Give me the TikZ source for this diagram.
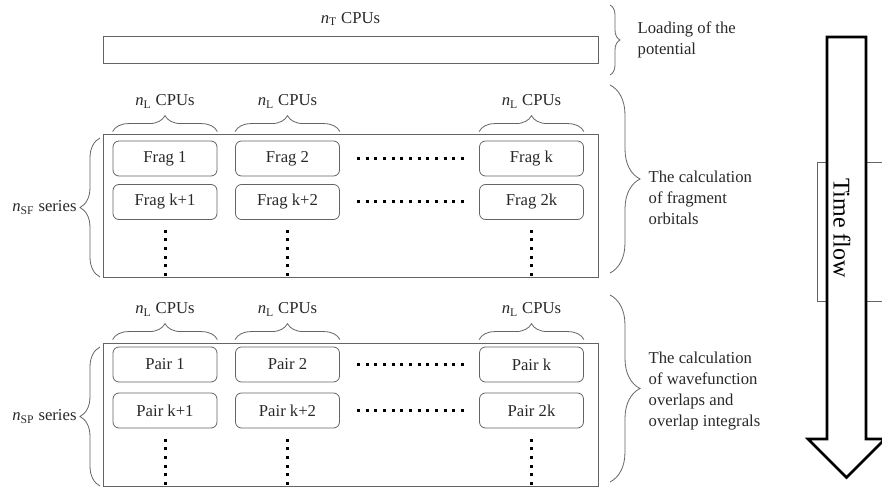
\documentclass[tikz,border=0pt]{standalone}
\usepackage{fontspec}
\setmainfont{Liberation Serif}
\usetikzlibrary{decorations.pathreplacing,positioning}
\definecolor{linegray}{RGB}{100,100,100}
\definecolor{textgray}{RGB}{40,40,40}
\newcommand{\nsub}[1]{\textit{n}\textsubscript{#1}}
\begin{document}
\begin{tikzpicture}[x=.75pt, y=-.75pt,
  every node/.style={text=textgray, font=\fontsize{12.5}{15.75}\selectfont},
  frame/.style={draw=linegray, line width=.6pt},
  job/.style={draw=linegray, line width=.6pt, rounded corners=4.5pt, minimum width=78pt, minimum height=26.25pt, inner sep=0pt},
  brc/.style={draw=linegray, line width=.6pt, decorate, decoration={brace, amplitude=#1}},
  brc/.default=12pt,
  dots/.style={line width=2.25pt, dash pattern=on 2.25pt off 4.25pt},
  lab/.style={above=14pt}]
\useasboundingbox (0,0) rectangle (882,488);
% loading of the potential
\node[frame, minimum width=371.25pt, minimum height=20.25pt] (bar) at (350.5,49.5) {};
\node[above=4pt of bar] (nt) {\nsub{T} CPUs};
\draw[brc=7.5pt] (610,5) -- (610,75);
\node[align=left, anchor=west] (load) at (633,40) {Loading of the\\potential};
% fragment orbitals
\draw[frame] (103,134) rectangle (598,277);
\node[job] (f1) at (165,158.5) {Frag 1};
\node[job] (f2) at (287.5,158.5) {Frag 2};
\node[job] (fk) at (531.5,158.5) {Frag k};
\node[job] (f1b) at (165,202) {Frag k+1};
\node[job] (f2b) at (287.5,202) {Frag k+2};
\node[job] (fkb) at (531.5,202) {Frag 2k};
\foreach \b in {f1,f2,fk}
  \draw[brc] ([yshift=6.75pt]\b.north west) -- node[lab]{\nsub{L} CPUs} ([yshift=6.75pt]\b.north east);
\draw[dots] ([xshift=12.75pt]f2.east) -- ([xshift=-11pt]fk.west);
\draw[dots] ([xshift=12.75pt]f2b.east) -- ([xshift=-11pt]fkb.west);
\foreach \b in {f1b,f2b,fkb}
  \draw[dots] (\b.south |- 0,276) -- (\b.south |- 0,230);
\draw[brc=15pt] (100,277) -- node[left=14pt]{\nsub{SF} series} (100,138);
\draw[brc=22.5pt] (610,85) -- (610,273);
\node[align=left, anchor=west] (frag) at (644,198) {The calculation\\of fragment\\orbitals};
% pair overlaps
\draw[frame] (103,343) rectangle (598,486);
\node[job] (p1) at (165,364.5) {Pair 1};
\node[job] (p2) at (287.5,364.5) {Pair 2};
\node[job] (pk) at (531.5,364.5) {Pair k};
\node[job] (p1b) at (165,410.5) {Pair k+1};
\node[job] (p2b) at (287.5,410.5) {Pair k+2};
\node[job] (pkb) at (531.5,410.5) {Pair 2k};
\foreach \b in {p1,p2,pk}
  \draw[brc] ([yshift=5.25pt]\b.north west) -- node[lab]{\nsub{L} CPUs} ([yshift=5.25pt]\b.north east);
\draw[dots] ([xshift=12.75pt]p2.east) -- ([xshift=-11pt]pk.west);
\draw[dots] ([xshift=12.75pt]p2b.east) -- ([xshift=-11pt]pkb.west);
\foreach \b in {p1b,p2b,pkb}
  \draw[dots] (\b.south |- 0,485) -- (\b.south |- 0,439);
\draw[brc=15pt] (100,486) -- node[left=14pt]{\nsub{SP} series} (100,347);
\draw[brc=22.5pt] (610,295) -- (610,482);
\node[align=left, anchor=west] (pair) at (644,391) {The calculation\\of wavefunction\\overlaps and\\overlap integrals};
% time flow
\draw[linegray, line width=.5pt] (817,162) rectangle (890,301);
\draw[black, line width=1.9pt, fill=white] (827,37) -- (866,37) -- (866,439) -- (885,439) -- (846.5,477.5) -- (808,439) -- (827,439) -- cycle;
\node[rotate=-90, text=black, font=\fontsize{18}{18}\selectfont] (tf) at (842,228) {Time flow};
\end{tikzpicture}
\end{document}
